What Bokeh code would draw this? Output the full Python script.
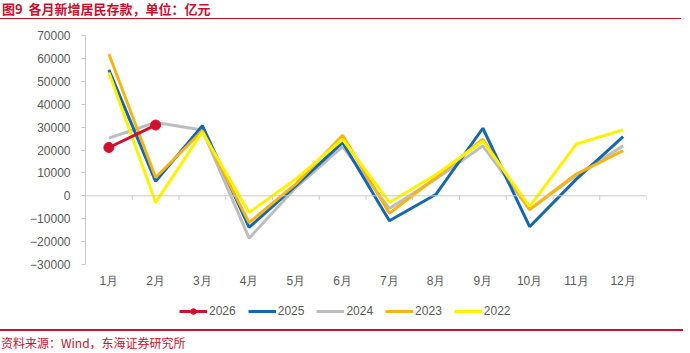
from bokeh.plotting import figure
from bokeh.models import Range1d, FixedTicker, Legend, LegendItem, Div, Span
from bokeh.layouts import column
from bokeh.embed import file_html
from bokeh.resources import INLINE

months = ["1月", "2月", "3月", "4月", "5月", "6月", "7月", "8月", "9月", "10月", "11月", "12月"]
y_ticks = [-30000, -20000, -10000, 0, 10000, 20000, 30000, 40000, 50000, 60000, 70000]
series_names = ["2026", "2025", "2024", "2023", "2022"]

v2026 = [21100, 30900]
v2025 = [55000, 6300, 30600, -13800, 4400, 23300, -10900, 700, 29500, -13500, 7300, 25800]
v2024 = [25200, 32000, 28700, -18500, 3600, 21500, -5500, 7400, 21800, -6000, 9000, 21800]
v2023 = [61900, 8000, 28400, -11700, 5200, 26400, -7600, 8000, 24700, -6000, 9500, 19700]
v2022 = [53800, -2900, 27800, -7300, 7300, 24700, -2900, 9300, 23800, -4600, 22600, 28800]

RED = "#D0102C"
BLUE = "#1668AE"
GRAY = "#BDBDBD"
ORANGE = "#F7B515"
YELLOW = "#FFF200"
TXT = "#595959"
TITLE_RED = "#C8102E"
AXIS = "#C8C8C8"

xs = list(range(1, len(months) + 1))

p = figure(width=690, height=272, output_backend="svg", toolbar_location=None,
           x_range=Range1d(0.5, len(months) + 0.5), y_range=Range1d(-30000, 70000),
           min_border_left=85, min_border_right=44, min_border_top=11, min_border_bottom=32)
p.background_fill_color = "white"
p.border_fill_color = "white"
p.outline_line_color = None
p.grid.visible = False

# y axis
ya = p.yaxis[0]
ya.ticker = FixedTicker(ticks=y_ticks)
ya.axis_line_color = AXIS
ya.major_tick_line_color = AXIS
ya.major_tick_out = 4
ya.major_tick_in = 0
ya.minor_tick_line_color = None
ya.major_label_standoff = 11
ya.major_label_text_font = "Liberation Sans"
ya.major_label_text_font_size = "12px"
ya.major_label_text_color = TXT

# x axis (labels at bottom)
xa = p.xaxis[0]
xa.ticker = FixedTicker(ticks=xs)
xa.major_label_overrides = {i: m for i, m in zip(xs, months)}
xa.axis_line_color = None
xa.major_tick_line_color = None
xa.minor_tick_line_color = None
xa.major_tick_out = 0
xa.major_label_standoff = 9
xa.major_label_text_font = "Liberation Sans"
xa.major_label_text_font_size = "12px"
xa.major_label_text_color = TXT

# zero line with category-boundary ticks
p.add_layout(Span(location=0, dimension="width", line_color=AXIS, line_width=1))
bounds = [i + 0.5 for i in range(0, len(months) + 1)]
tick_len = 4 * (70000 - (-30000)) / 229.0
p.segment(x0=bounds, y0=[0] * len(bounds), x1=bounds, y1=[-tick_len] * len(bounds),
          line_color=AXIS, line_width=1)

lw = 3
series = {"2026": v2026, "2025": v2025, "2024": v2024, "2023": v2023, "2022": v2022}
colors = {"2026": RED, "2025": BLUE, "2024": GRAY, "2023": ORANGE, "2022": YELLOW}
for name in ["2024", "2025", "2023", "2022", "2026"]:
    vals = series[name]
    p.line(xs[:len(vals)], vals, line_color=colors[name], line_width=lw)
p.scatter(xs[:len(v2026)], v2026, size=10, fill_color=RED, line_color=RED)

# legend strip (separate small figure so the legend is not clipped);
# its renderers hold the same series but lie outside this strip's ranges
lg = figure(width=690, height=33, output_backend="svg", toolbar_location=None,
            x_range=Range1d(-1e9, -1e9 + 1), y_range=Range1d(-1e9, -1e9 + 1),
            min_border=0, min_border_left=85, min_border_right=44, min_border_top=0, min_border_bottom=0)
lg.axis.visible = False
lg.grid.visible = False
lg.outline_line_color = None
lg.background_fill_color = "white"
lg.border_fill_color = "white"
items = []
for name in series_names:
    vals = series[name]
    c = colors[name]
    rs = [lg.line(xs[:len(vals)], vals, line_color=c, line_width=lw)]
    if name == "2026":
        rs.append(lg.scatter(xs[:len(vals)], vals, size=10, fill_color=c, line_color=c))
    items.append(LegendItem(label=name, renderers=rs))
legend = Legend(items=items, orientation="horizontal", location=(94, 11))
legend.glyph_width = 28
legend.glyph_height = 14
legend.label_height = 14
legend.label_standoff = 2
legend.spacing = 12
legend.padding = 0
legend.margin = 0
legend.label_text_font = "Liberation Sans"
legend.label_text_font_size = "12px"
legend.label_text_color = TXT
legend.border_line_color = None
legend.background_fill_alpha = 0
lg.add_layout(legend)

title_div = Div(
    text=('<div style="font-family:\'Noto Sans CJK SC\',sans-serif;font-size:13px;font-weight:bold;'
          'color:%s;line-height:18px;height:19px;padding-left:2px;width:681px;'
          'border-bottom:1.5px solid %s;white-space:nowrap;">图9&nbsp;&nbsp;各月新增居民存款，单位：亿元</div>')
    % (TITLE_RED, TITLE_RED),
    width=690, height=24, margin=0)

foot_div = Div(
    text=('<div style="width:683px;border-top:2px solid %s;font-family:\'Noto Sans CJK SC\',sans-serif;'
          'font-size:12px;color:%s;line-height:20px;padding-top:2px;padding-left:1px;white-space:nowrap;">'
          '资料来源：Wind，东海证券研究所</div>') % (TITLE_RED, TITLE_RED),
    width=690, height=23, margin=0)

layout = column(title_div, p, lg, foot_div, spacing=0)

open("out.html", "w").write(file_html(layout, INLINE))
